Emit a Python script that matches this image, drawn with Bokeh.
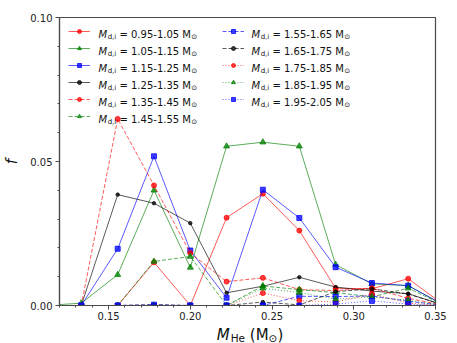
from bokeh.plotting import figure
from bokeh.layouts import column
from bokeh.models import Legend, LegendItem, Label, FixedTicker, NumeralTickFormatter
from bokeh.core.properties import value
from bokeh.embed import file_html
from bokeh.resources import INLINE

# ---------------- data ----------------
m_he = [0.1111, 0.1333, 0.1556, 0.1778, 0.2000, 0.2222, 0.2444, 0.2667, 0.2889, 0.3111, 0.3333, 0.3556]

bins = ["0.95-1.05", "1.05-1.15", "1.15-1.25", "1.25-1.35", "1.35-1.45", "1.45-1.55",
        "1.55-1.65", "1.65-1.75", "1.75-1.85", "1.85-1.95", "1.95-2.05"]

f_095 = [0, 0, 0, 0.0150, 0, 0.0305, 0.0388, 0.0260, 0.0060, 0.0058, 0.0093, 0]
f_105 = [0, 0.0008, 0.0107, 0.0400, 0.0132, 0.0553, 0.0567, 0.0553, 0.0142, 0.0075, 0.0069, 0]
f_115 = [0, 0, 0.0197, 0.0518, 0.0191, 0.0027, 0.0402, 0.0304, 0.0133, 0.0078, 0.0069, 0]
f_125 = [0, 0, 0.0385, 0.0355, 0.0286, 0.0044, 0.0067, 0.0098, 0.0064, 0.0050, 0.0041, 0]
f_135 = [0, 0, 0.0648, 0.0417, 0.0182, 0.0083, 0.0096, 0.0055, 0.0052, 0.0060, 0.0025, 0]
f_145 = [0, 0, 0, 0.0153, 0.0170, 0, 0.0068, 0.0055, 0.0045, 0.0030, 0.0060, 0]
f_155 = [0, 0, 0, 0.0003, 0, 0, 0, 0.0032, 0.0031, 0.0033, 0.0015, 0]
f_165 = [0, 0, 0, 0.0002, 0, 0, 0.0012, 0.0002, 0.0048, 0.0058, 0.0040, 0]
f_175 = [0, 0, 0, 0, 0, 0, 0.0043, 0.0017, 0.0012, 0.0040, 0.0008, 0]
f_185 = [0, 0, 0, 0, 0, 0, 0.0060, 0.0045, 0.0022, 0.0030, 0.0018, 0]
f_195 = [0, 0, 0, 0, 0, 0, 0, 0, 0.0005, 0.0016, 0.0005, 0]

x_ticks = [0.15, 0.20, 0.25, 0.30, 0.35]
x_minor = [0.12, 0.13, 0.14, 0.15, 0.16, 0.17, 0.18, 0.19, 0.20, 0.21, 0.22, 0.23,
           0.24, 0.25, 0.26, 0.27, 0.28, 0.29, 0.30, 0.31, 0.32, 0.33, 0.34, 0.35]
y_ticks = [0.00, 0.05, 0.10]
y_minor = [0.00, 0.01, 0.02, 0.03, 0.04, 0.05, 0.06, 0.07, 0.08, 0.09, 0.10]

series = [f_095, f_105, f_115, f_125, f_135, f_145, f_155, f_165, f_175, f_185, f_195]

# ---------------- styles ----------------
RED, GREEN, BLUE, BLACK = "#ff0000", "#008000", "#0000ff", "#000000"
colors = [RED, GREEN, BLUE, BLACK] * 3
dashes = ["solid"] * 4 + ["4 2"] * 4 + ["1 2"] * 3
markers = ["circle", "triangle", "square", "circle"] * 3
msizes = [5, 6, 5, 3.5] * 3

FONT = "DejaVu Sans"
W_FIG, H_FIG = 457, 325
BL, BR, BT, BB = 54, 22, 17, 20
FW, FH = W_FIG - BL - BR, H_FIG - BT - BB
SPINE = "#4a4a4a"

p = figure(width=W_FIG, height=H_FIG, x_range=(0.12, 0.35), y_range=(0.0, 0.10),
           output_backend="svg", toolbar_location=None,
           min_border_left=BL, min_border_right=BR, min_border_top=BT, min_border_bottom=BB)
p.xgrid.visible = False
p.ygrid.visible = False
p.outline_line_color = SPINE
p.outline_line_width = 1.2

for ax in (p.xaxis, p.yaxis):
    ax.axis_line_color = SPINE
    ax.axis_line_width = 1.2
    ax.major_tick_line_color = SPINE
    ax.minor_tick_line_color = SPINE
    ax.major_tick_in = 0
    ax.major_tick_out = 4
    ax.minor_tick_in = 0
    ax.minor_tick_out = 2
    ax.major_label_text_font = FONT
    ax.major_label_text_font_size = "10px"
    ax.major_label_text_color = "#222222"
    ax.formatter = NumeralTickFormatter(format="0.00")

p.xaxis.ticker = FixedTicker(ticks=x_ticks, minor_ticks=x_minor)
p.yaxis.ticker = FixedTicker(ticks=y_ticks, minor_ticks=y_minor)
p.xaxis.major_label_standoff = 2
p.yaxis.major_label_standoff = 3
p.yaxis.axis_label = "f"
p.yaxis.axis_label_text_font = FONT
p.yaxis.axis_label_text_font_size = "15px"
p.yaxis.axis_label_text_font_style = "italic"
p.yaxis.axis_label_text_color = "#111111"
p.yaxis.axis_label_standoff = 6

items = []
for vals, c, d, m, s in zip(series, colors, dashes, markers, msizes):
    lr = p.line(m_he, vals, line_color=c, line_width=1, line_alpha=0.65, line_dash=d)
    sr = p.scatter(m_he, vals, marker=m, size=s, fill_color=c, line_color=c,
                   fill_alpha=0.75, line_alpha=0.75)
    items.append(LegendItem(label=value(""), renderers=[lr, sr]))

ROW = 17
GH = 10
TOP_OFF = 5
legend_kw = dict(glyph_width=22, glyph_height=GH, label_height=ROW, label_width=0,
                 label_standoff=0, spacing=0, padding=0, margin=0,
                 label_text_font_size="1px", border_line_alpha=0,
                 background_fill_alpha=0)
col1 = items[:6]
col2 = items[6:]
leg1 = Legend(items=col1, location=(9, FH - (TOP_OFF + ROW * len(col1))), **legend_kw)
leg2 = Legend(items=col2, location=(163, FH - (TOP_OFF + ROW * len(col2))), **legend_kw)
p.add_layout(leg1)
p.add_layout(leg2)

# approximate DejaVu Sans advance widths (em)
ADV = {'0': .636, '1': .636, '2': .636, '3': .636, '4': .636, '5': .636, '6': .636,
       '7': .636, '8': .636, '9': .636, '.': .318, '-': .361, ' ': .318, '=': .838,
       'M': .863, 'd': .635, ',': .318, 'i': .278, 'H': .752, 'e': .615, '(': .390,
       ')': .390, '\u2299': .838, '\u00a0': .318}


def tw(s, size):
    return sum(ADV.get(ch, 0.6) for ch in s) * size


def lab(fig, x, y, text, size, italic=False, align="left", baseline="alphabetic"):
    fig.add_layout(Label(x=x, y=y, x_units="screen", y_units="screen", text=text,
                         text_font=FONT, text_font_size=f"{size}px",
                         text_font_style="italic" if italic else "normal",
                         text_color="#111111", text_align=align, text_baseline=baseline))


LF, LS = 10, 7
for idx, b in enumerate(bins):
    col = 0 if idx < 6 else 1
    row = idx if idx < 6 else idx - 6
    x0 = 39 if col == 0 else 192
    center = TOP_OFF + GH / 2 + ROW * row + 3
    base = FH - (center + 3.6)
    lab(p, x0, base, "M", LF, italic=True)
    x1 = x0 + tw("M", LF) + 0.5
    lab(p, x1, base - 2.5, "d,i", LS)
    x2 = x1 + tw("d,i", LS) + 3.2
    main = "= " + b + " M"
    lab(p, x2, base, main, LF)
    x3 = x2 + tw(main, LF) + 0.3
    lab(p, x3, base - 2.5, "\u2299", LS)

# x axis label strip: M_He (M_sun)
XH = 343 - H_FIG
xf = figure(width=W_FIG, height=XH, x_range=(0, 1), y_range=(0, 1),
            output_backend="svg", toolbar_location=None,
            x_axis_location=None, y_axis_location=None,
            min_border_left=BL, min_border_right=BR, min_border_top=0, min_border_bottom=0)
xf.xgrid.visible = False
xf.ygrid.visible = False
xf.outline_line_color = None

XF, XS = 15, 10.5
parts = [("M", XF, True, 0), ("He", XS, False, -3), ("\u00a0(M", XF, False, 0),
         ("\u2299", XS, False, -3), (")", XF, False, 0)]
total = sum(tw(t, s) for t, s, _, _ in parts) + 1
xx = FW / 2 - total / 2
XBASE = 9
for t, s, it, dy in parts:
    lab(xf, xx, XBASE + dy, t, s, italic=it)
    xx += tw(t, s) + (1 if t == "M" and it else 0)

layout = column(p, xf, spacing=0)
open("out.html", "w").write(file_html(layout, INLINE))
